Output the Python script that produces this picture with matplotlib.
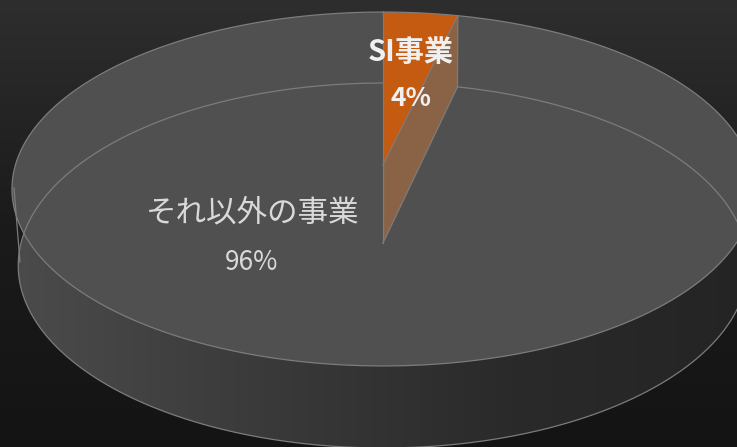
import numpy as np
import matplotlib
matplotlib.use('Agg')
import matplotlib.pyplot as plt
from matplotlib.colors import LinearSegmentedColormap
from matplotlib.patches import Polygon

plt.rcParams['font.family'] = ['Noto Sans CJK JP', 'DejaVu Sans']

categories = ['SI事業', 'それ以外の事業']
shares = [3.7, 96.3]

W, H = 737, 447
fig = plt.figure(figsize=(W / 100, H / 100), dpi=100)
ax = fig.add_axes([0, 0, 1, 1])


# pie plane -> pixels, with a bit of perspective (far side is smaller)
def rim(deg, y0, a, b, k):
    t = np.radians(deg)
    u, v = np.sin(t), np.cos(t)
    w = 1 + k * v
    return 383 + a * u / w, y0 - b * v / w


def top(deg):
    return rim(deg, 165, 367.6, 173.7, 0.1356)


def bottom(deg):
    return rim(deg, 243, 362, 179.7, 0.1233)


def poly(*parts):
    return np.vstack([np.column_stack(p) for p in parts])


edge = '#7c7c7c'
lw = 0.9

# background
bg = LinearSegmentedColormap.from_list('bg', ['#2e2e2e', '#1b1b1b', '#141414'])
ax.imshow(np.linspace(0, 1, 256).reshape(-1, 1), cmap=bg, extent=[0, W, H, 0], aspect='auto', zorder=0)

# side wall, left to right gradient
wall = LinearSegmentedColormap.from_list('wall', ['#4b4b4b', '#3a3a3a', '#2a2a2a', '#242424'])
grad = np.linspace(0, 1, 256).reshape(1, -1)
all_deg = np.linspace(0, 360, 721)
strip = np.linspace(180, 300, 200)
for clip in (poly(bottom(all_deg)), poly(top(strip), bottom(strip[::-1]))):
    im = ax.imshow(grad, cmap=wall, extent=[14, 760, H + 10, 0], aspect='auto', zorder=1)
    im.set_clip_path(Polygon(clip, transform=ax.transData))

# top surface
ax.add_patch(Polygon(poly(top(all_deg)), closed=True, fc='#505050', ec='none', zorder=2))

# SI slice
end = 360 * shares[0] / 100
arc = np.linspace(0, end, 20)
ax.add_patch(Polygon(poly(top(arc), top(np.array([0.0])) * np.array([[1], [1]])[:, 0] if False else (np.array([383.0]), np.array([165.0]))),
                     closed=True, fc='#c55a11', ec='none', zorder=3))
ax.add_patch(Polygon(poly((np.array([383.0]), np.array([165.0])), top(np.array([end])),
                          bottom(np.array([end])), (np.array([383.0]), np.array([243.0]))),
                     closed=True, fc='#8a6346', ec='none', zorder=3))

# outlines
rest = np.linspace(end, 360, 700)
front = np.linspace(112, 278, 400)
for x, y in (top(arc), top(rest), bottom(rest), bottom(arc)):
    pass
x, y = top(arc)
ax.plot(x, y, color=edge, lw=lw, zorder=4)
x, y = top(rest)
ax.plot(x, y, color=edge, lw=lw, zorder=4)
x, y = bottom(rest)
ax.plot(x, y, color=edge, lw=lw, zorder=4)

xe0, ye0 = top(np.array([end]))
xe1, ye1 = bottom(np.array([end]))
xs0, ys0 = top(np.array([0.0]))
xs1, ys1 = bottom(np.array([0.0]))
ax.plot([383, xe0[0]], [165, ye0[0]], color=edge, lw=lw, zorder=4)
ax.plot([383, xe1[0]], [243, ye1[0]], color=edge, lw=lw, zorder=4)
ax.plot([xe0[0], xe1[0]], [ye0[0], ye1[0]], color=edge, lw=lw, zorder=4)
ax.plot([383, 383], [ys0[0], 243], color=edge, lw=lw, zorder=4)
ax.plot([14, 20], [188, 262], color=edge, lw=lw, zorder=4)

# labels
ax.text(411, 52, categories[0], color='#f0f0f0', fontsize=21, fontweight='bold',
        ha='center', va='center', zorder=5)
ax.text(411, 98, f'{shares[0]:.0f}%', color='#f0f0f0', fontsize=19, fontweight='bold',
        ha='center', va='center', zorder=5)
ax.text(253, 213, categories[1], color='#d9d9d9', fontsize=22, ha='center', va='center', zorder=5)
ax.text(252, 262, f'{shares[1]:.0f}%', color='#d9d9d9', fontsize=19, ha='center', va='center', zorder=5)

ax.set_xlim(0, W)
ax.set_ylim(H, 0)
ax.axis('off')

plt.savefig('out.png', dpi=100)
